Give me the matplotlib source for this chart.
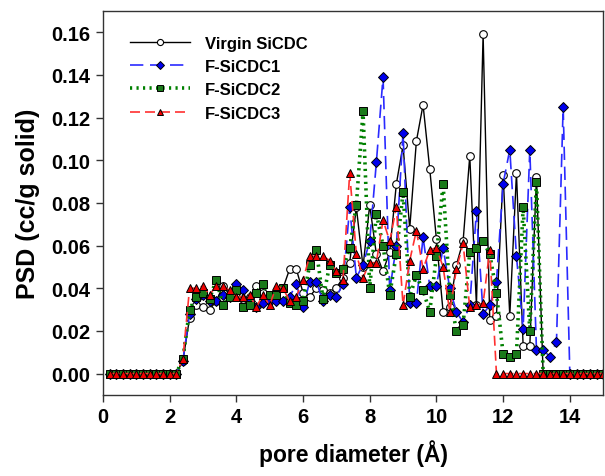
import numpy as np
import matplotlib.pyplot as plt

plt.rcParams['font.family'] = ['Liberation Sans', 'DejaVu Sans']
plt.rcParams['font.weight'] = 'bold'

# pore diameter grid (Å)
pore = np.round(np.arange(1, 76) * 0.2, 1)

zeros11 = [0.0] * 11

virgin = zeros11 + [
    0.006, 0.026, 0.032, 0.031, 0.030, 0.034, 0.041, 0.037, 0.036, 0.035,
    0.036, 0.041, 0.038, 0.036, 0.037, 0.040, 0.049, 0.049, 0.038, 0.036,
    0.040, 0.039, 0.038, 0.040, 0.045, 0.052, 0.078, 0.050, 0.079, 0.056,
    0.048, 0.057, 0.089, 0.107, 0.068, 0.109, 0.126, 0.096, 0.063, 0.029,
    0.031, 0.051, 0.062, 0.102, 0.032, 0.159, 0.025, 0.027, 0.093, 0.027,
    0.094, 0.013, 0.013, 0.092] + [0.0] * 10

f1 = zeros11 + [
    0.006, 0.028, 0.035, 0.037, 0.034, 0.034, 0.037, 0.036, 0.042, 0.039,
    0.034, 0.031, 0.033, 0.034, 0.034, 0.034, 0.036, 0.042, 0.031, 0.043,
    0.043, 0.034, 0.037, 0.036, 0.042, 0.078, 0.045, 0.051, 0.062, 0.099,
    0.139, 0.039, 0.060, 0.113, 0.033, 0.033, 0.064, 0.041, 0.041, 0.059,
    0.040, 0.029, 0.024, 0.032, 0.076, 0.028, 0.032, 0.043, 0.089, 0.105,
    0.055, 0.021, 0.105, 0.011, 0.011, 0.008, 0.015, 0.125] + [0.0] * 6

f2 = zeros11 + [
    0.007, 0.030, 0.036, 0.038, 0.035, 0.044, 0.032, 0.036, 0.039, 0.031,
    0.032, 0.038, 0.042, 0.037, 0.037, 0.040, 0.033, 0.032, 0.034, 0.051,
    0.058, 0.035, 0.051, 0.047, 0.049, 0.059, 0.079, 0.123, 0.040, 0.075,
    0.060, 0.037, 0.056, 0.085, 0.036, 0.046, 0.039, 0.029, 0.055, 0.089,
    0.037, 0.020, 0.023, 0.057, 0.059, 0.062, 0.056, 0.038, 0.009, 0.008,
    0.009, 0.078, 0.020, 0.090] + [0.0] * 10

f3 = zeros11 + [
    0.007, 0.040, 0.040, 0.041, 0.037, 0.041, 0.041, 0.039, 0.036, 0.036,
    0.037, 0.031, 0.037, 0.032, 0.041, 0.040, 0.034, 0.036, 0.044, 0.055,
    0.055, 0.055, 0.053, 0.048, 0.044, 0.094, 0.056, 0.045, 0.052, 0.052,
    0.072, 0.062, 0.078, 0.032, 0.053, 0.067, 0.049, 0.058, 0.059, 0.050,
    0.029, 0.049, 0.061, 0.031, 0.032, 0.033, 0.058] + [0.0] * 17

fig = plt.figure(figsize=(6.05, 4.77), dpi=100)
ax = fig.add_axes([0.170, 0.170, 0.827, 0.805])

ax.plot(pore, virgin, '-', color='black', lw=1.0, marker='o', ms=5.5,
        mfc='white', mec='black', mew=0.8, label='Virgin SiCDC')
ax.plot(pore, f1, color='#2a2aff', lw=1.2, dashes=(8, 4), marker='D', ms=5.5,
        mfc='#0000ee', mec='black', mew=0.7, label='F-SiCDC1')
ax.plot(pore, f2, color='#008000', lw=2.6, linestyle=(0, (0.6, 1.2)),
        marker='s', ms=5.5, mfc='#1a7a1a', mec='black', mew=0.7, label='F-SiCDC2')
ax.plot(pore, f3, color='#ff3030', lw=1.2, dashes=(6, 3), marker='^', ms=6,
        mfc='#ee0000', mec='black', mew=0.7, label='F-SiCDC3')

ax.set_xlim(0, 15)
ax.set_ylim(-0.01, 0.17)
ax.set_xticks(np.arange(0, 15, 2))
ax.set_yticks(np.arange(0, 0.161, 0.02))
ax.yaxis.set_major_formatter(plt.FormatStrFormatter('%.2f'))
ax.tick_params(direction='out', length=5, width=1, labelsize=14.5, pad=4,
               top=False, right=False, color='#333333')
for lab in ax.get_xticklabels() + ax.get_yticklabels():
    lab.set_fontweight('bold')
for sp in ax.spines.values():
    sp.set_linewidth(1.0)
    sp.set_color('#333333')

ax.set_xlabel('pore diameter (Å)', fontsize=16.5, fontweight='bold', labelpad=9)
ax.set_ylabel('PSD (cc/g solid)', fontsize=18, fontweight='bold', labelpad=8)

leg = ax.legend(loc='upper left', bbox_to_anchor=(0.025, 0.975), frameon=False,
                fontsize=12, handlelength=3.6, handletextpad=0.9,
                labelspacing=0.5, markerscale=0.8)
for t in leg.get_texts():
    t.set_fontweight('bold')

fig.savefig('out.png', dpi=100)
